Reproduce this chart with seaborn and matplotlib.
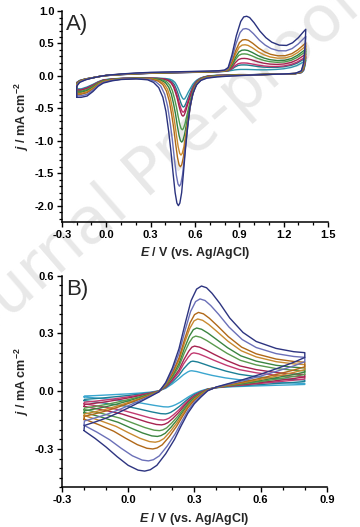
import numpy as np
import pandas as pd
import matplotlib
matplotlib.use("Agg")
import matplotlib.pyplot as plt
import seaborn as sns
from matplotlib.ticker import MultipleLocator, FormatStrFormatter

# ---- Panel A: largest (navy) and smallest (teal) voltammogram ----
A_big_E = [-0.20, -0.20, -0.18, -0.14, -0.10, -0.05, 0.00, 0.10, 0.20, 0.30, 0.40, 0.50, 0.60,
           0.70, 0.76, 0.80, 0.825, 0.85, 0.88, 0.91, 0.93, 0.95, 0.97, 1.00, 1.04, 1.08, 1.12,
           1.17, 1.22, 1.26, 1.30, 1.33, 1.35,
           1.345, 1.335, 1.32, 1.28, 1.20, 1.00, 0.85, 0.75, 0.68, 0.64, 0.61, 0.585, 0.565,
           0.55, 0.535, 0.522, 0.51, 0.498, 0.488, 0.478, 0.466, 0.452, 0.437, 0.422, 0.404,
           0.383, 0.355, 0.32, 0.28, 0.20, 0.10, 0.04, -0.02, -0.055, -0.09, -0.13, -0.17, -0.20]
A_big_j = [-0.33, -0.16, -0.10, -0.06, -0.035, -0.01, 0.01, 0.03, 0.045, 0.055, 0.06, 0.065, 0.07,
           0.075, 0.08, 0.09, 0.13, 0.32, 0.62, 0.84, 0.91, 0.92, 0.90, 0.82, 0.69, 0.59, 0.52,
           0.475, 0.47, 0.51, 0.59, 0.67, 0.72,
           0.45, 0.20, 0.08, 0.04, 0.03, 0.015, 0.0, -0.015, -0.035, -0.07, -0.14, -0.28, -0.50,
           -0.80, -1.15, -1.50, -1.80, -1.96, -2.00, -1.96, -1.80, -1.50, -1.15, -0.85, -0.55,
           -0.33, -0.18, -0.10, -0.06, -0.045, -0.055, -0.075, -0.11, -0.16, -0.24, -0.31, -0.33, -0.33]
A_small_E = [-0.20, -0.20, -0.18, -0.14, -0.10, -0.05, 0.00, 0.10, 0.20, 0.30, 0.40, 0.50, 0.60,
             0.70, 0.76, 0.80, 0.825, 0.85, 0.87, 0.89, 0.91, 0.93, 0.95, 0.98, 1.02, 1.06, 1.10,
             1.15, 1.20, 1.25, 1.29, 1.33, 1.35,
             1.345, 1.335, 1.32, 1.28, 1.20, 1.00, 0.85, 0.75, 0.69, 0.66, 0.635, 0.615, 0.60,
             0.585, 0.57, 0.555, 0.542, 0.532, 0.525, 0.518, 0.51, 0.50, 0.49, 0.478, 0.465,
             0.45, 0.43, 0.40, 0.35, 0.25, 0.12, 0.04, -0.02, -0.055, -0.09, -0.13, -0.17, -0.20]
A_small_j = [-0.20, -0.10, -0.07, -0.045, -0.03, -0.01, 0.005, 0.02, 0.03, 0.04, 0.045, 0.05, 0.055,
             0.06, 0.065, 0.07, 0.075, 0.085, 0.093, 0.098, 0.10, 0.10, 0.10, 0.098, 0.095, 0.094,
             0.095, 0.10, 0.11, 0.13, 0.16, 0.21, 0.24,
             0.16, 0.08, 0.05, 0.035, 0.03, 0.02, 0.015, 0.01, 0.0, -0.015, -0.035, -0.06, -0.09,
             -0.13, -0.19, -0.25, -0.31, -0.35, -0.36, -0.35, -0.32, -0.27, -0.21, -0.15, -0.10,
             -0.07, -0.05, -0.04, -0.035, -0.03, -0.035, -0.045, -0.06, -0.09, -0.13, -0.17, -0.20, -0.20]
# peak currents of the ten scans (small -> large)
A_ox_peak = [0.10, 0.17, 0.20, 0.27, 0.34, 0.40, 0.48, 0.56, 0.73, 0.92]
A_red_peak = [-0.36, -0.48, -0.56, -0.62, -0.83, -1.02, -1.22, -1.40, -1.70, -2.00]

# ---- Panel B ----
B_big_E = [-0.200, -0.198, -0.15, -0.10, -0.05, 0.00, 0.05, 0.10, 0.14, 0.17, 0.20, 0.23, 0.26,
           0.285, 0.31, 0.332, 0.355, 0.38, 0.415, 0.46, 0.52, 0.58, 0.67, 0.75, 0.80,
           0.80, 0.75, 0.68, 0.60, 0.52, 0.45, 0.40, 0.36, 0.33, 0.30, 0.27, 0.24, 0.21, 0.17,
           0.13, 0.10, 0.075, 0.045, 0.00, -0.05, -0.10, -0.15, -0.20]
B_big_j = [-0.203, -0.178, -0.160, -0.140, -0.115, -0.087, -0.058, -0.028, -0.003, 0.045, 0.120,
           0.220, 0.360, 0.470, 0.530, 0.546, 0.537, 0.508, 0.456, 0.380, 0.305, 0.258, 0.222,
           0.205, 0.200,
           0.175, 0.150, 0.120, 0.088, 0.060, 0.038, 0.022, 0.002, -0.030, -0.065, -0.115, -0.180,
           -0.250, -0.325, -0.385, -0.408, -0.415, -0.410, -0.385, -0.340, -0.290, -0.245, -0.205]
B_small_E = [-0.200, -0.198, -0.15, -0.10, -0.05, 0.00, 0.05, 0.10, 0.14, 0.17, 0.20, 0.23, 0.25,
             0.27, 0.28, 0.288, 0.31, 0.34, 0.38, 0.44, 0.50, 0.58, 0.67, 0.75, 0.80,
             0.80, 0.75, 0.68, 0.60, 0.52, 0.45, 0.40, 0.36, 0.33, 0.30, 0.275, 0.255, 0.235,
             0.215, 0.20, 0.19, 0.181, 0.16, 0.12, 0.06, 0.00, -0.10, -0.20]
B_small_j = [-0.030, -0.025, -0.023, -0.020, -0.017, -0.014, -0.010, -0.005, 0.002, 0.015, 0.038,
             0.065, 0.085, 0.100, 0.105, 0.106, 0.102, 0.093, 0.082, 0.069, 0.060, 0.052, 0.045,
             0.042, 0.040,
             0.035, 0.033, 0.031, 0.028, 0.025, 0.022, 0.018, 0.012, 0.002, -0.012, -0.028, -0.043,
             -0.058, -0.070, -0.077, -0.080, -0.082, -0.081, -0.074, -0.062, -0.052, -0.040, -0.030]
B_ox_peak = [0.106, 0.156, 0.199, 0.234, 0.286, 0.328, 0.375, 0.409, 0.479, 0.546]
B_red_peak = [-0.082, -0.118, -0.150, -0.175, -0.205, -0.235, -0.265, -0.300, -0.362, -0.415]

colors_A = ['#2f95ad', '#1f7a8c', '#c0306a', '#a3224e', '#4f9a4a', '#2f7f3f',
            '#c98a2e', '#b06a16', '#6a6fb5', '#2a327e']
colors_B = ['#3aa6cf', '#1c7f95', '#c23a70', '#a62350', '#5a9a4e', '#3b8440',
            '#c88a30', '#b06818', '#6b70b8', '#2d3480']


def build(big_E, big_j, small_E, small_j, ox_peak, red_peak, ox_slice):
    bE, bj = np.array(big_E), np.array(big_j)
    sE, sj = np.array(small_E), np.array(small_j)
    ox, red = np.array(ox_peak), np.array(red_peak)
    # position of every scan between the smallest and the largest one
    w_ox = (ox - ox[0]) / (ox[-1] - ox[0])
    w_red = (red - red[0]) / (red[-1] - red[0])
    in_ox = np.zeros(len(bE), bool)
    in_ox[ox_slice] = True
    frames = []
    for k in range(len(ox)):
        w = np.where(in_ox, w_ox[k], w_red[k])
        frames.append(pd.DataFrame({'E': sE + (bE - sE) * w,
                                    'j': sj + (bj - sj) * w,
                                    'scan': k}))
    return pd.concat(frames, ignore_index=True)


df_A = build(A_big_E, A_big_j, A_small_E, A_small_j, A_ox_peak, A_red_peak, slice(6, 36))
df_B = build(B_big_E, B_big_j, B_small_E, B_small_j, B_ox_peak, B_red_peak, slice(0, 25))

sns.set_style("ticks")
plt.rcParams.update({
    'font.family': ['Liberation Sans', 'DejaVu Sans'],
    'font.weight': 'bold',
    'mathtext.fontset': 'custom',
    'mathtext.it': 'Liberation Sans:italic:bold',
    'mathtext.rm': 'Liberation Sans:bold',
    'mathtext.bf': 'Liberation Sans:bold',
    'axes.unicode_minus': False,
    'axes.edgecolor': 'black',
    'axes.linewidth': 1.1,
    'xtick.color': 'black', 'ytick.color': 'black',
    'xtick.major.size': 3.5, 'ytick.major.size': 3.5,
    'xtick.minor.size': 2, 'ytick.minor.size': 2,
    'xtick.major.width': 1.0, 'ytick.major.width': 1.0,
    'xtick.minor.width': 0.9, 'ytick.minor.width': 0.9,
})

fig = plt.figure(figsize=(3.6, 5.27), dpi=100)
fig.text(0.43, 0.675, 'Journal Pre-proof', rotation=41, fontsize=46, color='#e8e8e8',
         ha='center', va='center', fontweight='normal', family='DejaVu Sans', zorder=-1)

ax_A = fig.add_axes([0.172, 0.579, 0.739, 0.400])
ax_B = fig.add_axes([0.172, 0.075, 0.736, 0.402])

panels = [(ax_A, df_A, colors_A, (-0.3, 1.5), (-2.25, 1.0), 0.5, 0.1, 'A)'),
          (ax_B, df_B, colors_B, (-0.3, 0.9), (-0.5, 0.6), 0.3, 0.05, 'B)')]

for ax, df, pal, xlim, ylim, ymaj, ymin, tag in panels:
    ax.set_facecolor('none')
    sns.lineplot(data=df, x='E', y='j', hue='scan', palette=pal, sort=False,
                 estimator=None, legend=False, lw=1.0, ax=ax)
    ax.set_xlim(*xlim)
    ax.set_ylim(*ylim)
    ax.xaxis.set_major_locator(MultipleLocator(0.3))
    ax.xaxis.set_minor_locator(MultipleLocator(0.1))
    ax.yaxis.set_major_locator(MultipleLocator(ymaj))
    ax.yaxis.set_minor_locator(MultipleLocator(ymin))
    ax.xaxis.set_major_formatter(FormatStrFormatter('%.1f'))
    ax.yaxis.set_major_formatter(FormatStrFormatter('%.1f'))
    ax.tick_params(which='both', direction='out', labelsize=8, pad=2)
    for lab in ax.get_xticklabels() + ax.get_yticklabels():
        lab.set_fontweight('bold')
    sns.despine(ax=ax)
    ax.set_xlabel(r'$E$ / V (vs. Ag/AgCl)', fontsize=9, fontweight='bold', labelpad=4)
    ax.set_ylabel(r'$j$ / mA cm$^{-2}$', fontsize=9, fontweight='bold')
    ax.yaxis.set_label_coords(-0.115, 0.5)
    ax.text(0.015, 0.985, tag, transform=ax.transAxes, ha='left', va='top',
            fontsize=16, fontweight='normal')

fig.savefig('out.png', dpi=100)
